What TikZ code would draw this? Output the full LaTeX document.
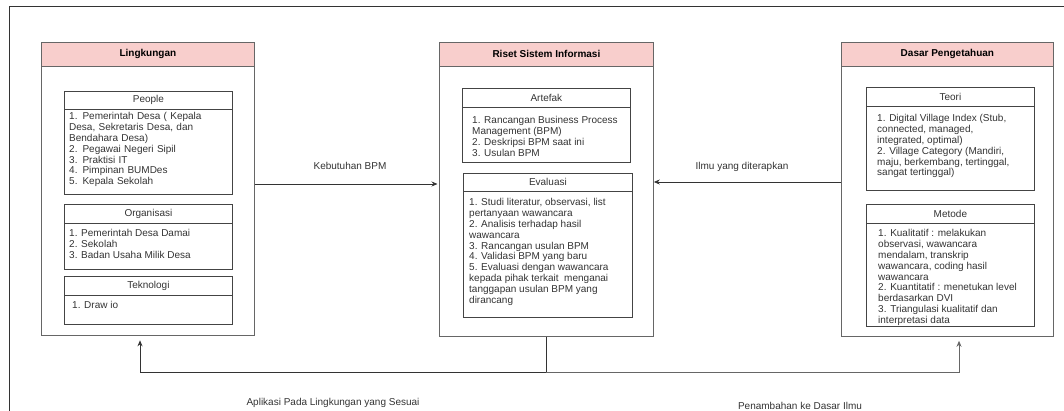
\documentclass[tikz,border=0pt]{standalone}
\usepackage{fontspec}
\setmainfont{Liberation Sans}
\usetikzlibrary{arrows.meta}
\definecolor{hdrpink}{HTML}{F8CECC}
\definecolor{edgegray}{HTML}{666666}
\definecolor{innergray}{HTML}{444444}
\definecolor{txtgray}{HTML}{333333}
\begin{document}
\begin{tikzpicture}[x=1pt,y=-1pt,
  basefont/.style={font=\fontsize{10}{10.8}\selectfont, text=txtgray},
  outerbox/.style={draw=edgegray, line width=0.8pt, rectangle, anchor=north west, inner sep=0pt},
  outerhdr/.style={draw=edgegray, fill=hdrpink, line width=0.8pt, rectangle, anchor=north west, inner sep=0pt, font=\fontsize{10}{12}\selectfont\bfseries, text=black},
  innerbox/.style={draw=innergray, line width=0.8pt, rectangle, anchor=north west, inner sep=0pt},
  innerhdr/.style={draw=innergray, line width=0.8pt, rectangle, anchor=north west, inner sep=0pt, basefont},
  bodytext/.style={anchor=north west, inner sep=0pt, align=left, basefont},
  arr/.style={draw=txtgray, line width=0.8pt, -{Stealth[length=6pt,width=5pt]}},
  plain/.style={draw=txtgray, line width=0.8pt},
  lbl/.style={basefont}
]
\useasboundingbox (0,0) rectangle (1064,411);
% outer frame (cropped)
\draw[plain] (1064,6) -- (9,6) -- (9,411);

% ---------- Left: Lingkungan ----------
\node[outerbox, minimum width=213pt, minimum height=293pt] (L) at (41,42) {};
\node[outerhdr, minimum width=213pt, minimum height=24pt] (Lh) at (41,42) {Lingkungan};

\node[innerbox, minimum width=168pt, minimum height=103pt] (P) at (64,91) {};
\node[innerhdr, minimum width=168pt, minimum height=18pt] (Ph) at (64,91) {People};
\node[bodytext, text width=145pt] (Pt) at (69,112.5) {\makebox[\linewidth][s]{1. Pemerintah Desa ( Kepala}\\
\makebox[\linewidth][s]{Desa, Sekretaris Desa, dan}\\
Bendahara Desa)\\
2. Pegawai Negeri Sipil\\
3. Praktisi IT\\
4. Pimpinan BUMDes\\
5. Kepala Sekolah};

\node[innerbox, minimum width=168pt, minimum height=65pt] (O) at (64,204) {};
\node[innerhdr, minimum width=168pt, minimum height=19pt] (Oh) at (64,204) {Organisasi};
\node[bodytext] (Ot) at (69,229.5) {1. Pemerintah Desa Damai\\
2. Sekolah\\
3. Badan Usaha Milik Desa};

\node[innerbox, minimum width=168pt, minimum height=48pt] (T) at (64,276) {};
\node[innerhdr, minimum width=168pt, minimum height=19pt] (Th) at (64,276) {Teknologi};
\node[bodytext] (Tt) at (72,301.5) {1. Draw io};

% ---------- Middle: Riset Sistem Informasi ----------
\node[outerbox, minimum width=214pt, minimum height=294pt] (M) at (439,42) {};
\node[outerhdr, minimum width=214pt, minimum height=24pt] (Mh) at (439,42) {Riset Sistem Informasi};

\node[innerbox, minimum width=168pt, minimum height=74pt] (A) at (462,88) {};
\node[innerhdr, minimum width=168pt, minimum height=19pt] (Ah) at (462,88) {Artefak};
\node[bodytext] (At) at (472,116.5) {1. Rancangan Business Process\\
Management (BPM)\\
2. Deskripsi BPM saat ini\\
3. Usulan BPM};

\node[innerbox, minimum width=169pt, minimum height=144pt] (E) at (463,173) {};
\node[innerhdr, minimum width=169pt, minimum height=18pt] (Eh) at (463,173) {Evaluasi};
\node[bodytext] (Et) at (469,198.5) {1. Studi literatur, observasi, list\\
pertanyaan wawancara\\
2. Analisis terhadap hasil\\
wawancara\\
3. Rancangan usulan BPM\\
4. Validasi BPM yang baru\\
5. Evaluasi dengan wawancara\\
kepada pihak terkait\ \ menganai\\
tanggapan usulan BPM yang\\
dirancang};

% ---------- Right: Dasar Pengetahuan ----------
\node[outerbox, minimum width=212pt, minimum height=294pt] (R) at (841,42) {};
\node[outerhdr, minimum width=212pt, minimum height=24pt] (Rh) at (841,42) {Dasar Pengetahuan};

\node[innerbox, minimum width=168pt, minimum height=103pt] (Te) at (866,87) {};
\node[innerhdr, minimum width=168pt, minimum height=19pt] (Teh) at (866,87) {Teori};
\node[bodytext] (Tet) at (877,114.5) {1. Digital Village Index (Stub,\\
connected, managed,\\
integrated, optimal)\\
2. Village Category (Mandiri,\\
maju, berkembang, tertinggal,\\
sangat tertinggal)};

\node[innerbox, minimum width=168pt, minimum height=122pt] (Me) at (866,204) {};
\node[innerhdr, minimum width=168pt, minimum height=19pt] (Meh) at (866,204) {Metode};
\node[bodytext] (Met) at (878,229.5) {1. Kualitatif : melakukan\\
observasi, wawancara\\
mendalam, transkrip\\
wawancara, coding hasil\\
wawancara\\
2. Kuantitatif : menetukan level\\
berdasarkan DVI\\
3. Triangulasi kualitatif dan\\
interpretasi data};

% ---------- Connectors ----------
\draw[arr, shorten >=1.5pt] (L.east |- 0,184) -- (M.west |- 0,184);
\node[lbl] (k1) at (350,166) {Kebutuhan BPM};

\draw[arr] (R.west |- 0,182) -- (M.east |- 0,182);
\node[lbl] (k2) at (742,167) {Ilmu yang diterapkan};

\coordinate (mbot) at (M.south |- 0,372);
\draw[plain] (M.south) -- (mbot);
\draw[arr, shorten >=4.5pt] (mbot) -| (140,0 |- L.south);
\draw[arr, shorten >=4pt, draw=edgegray] (mbot) -| (959,0 |- R.south);

\node[lbl] (k3) at (333,403) {Aplikasi Pada Lingkungan yang Sesuai};
\node[lbl] (k4) at (800,406) {Penambahan ke Dasar Ilmu};
\end{tikzpicture}
\end{document}
